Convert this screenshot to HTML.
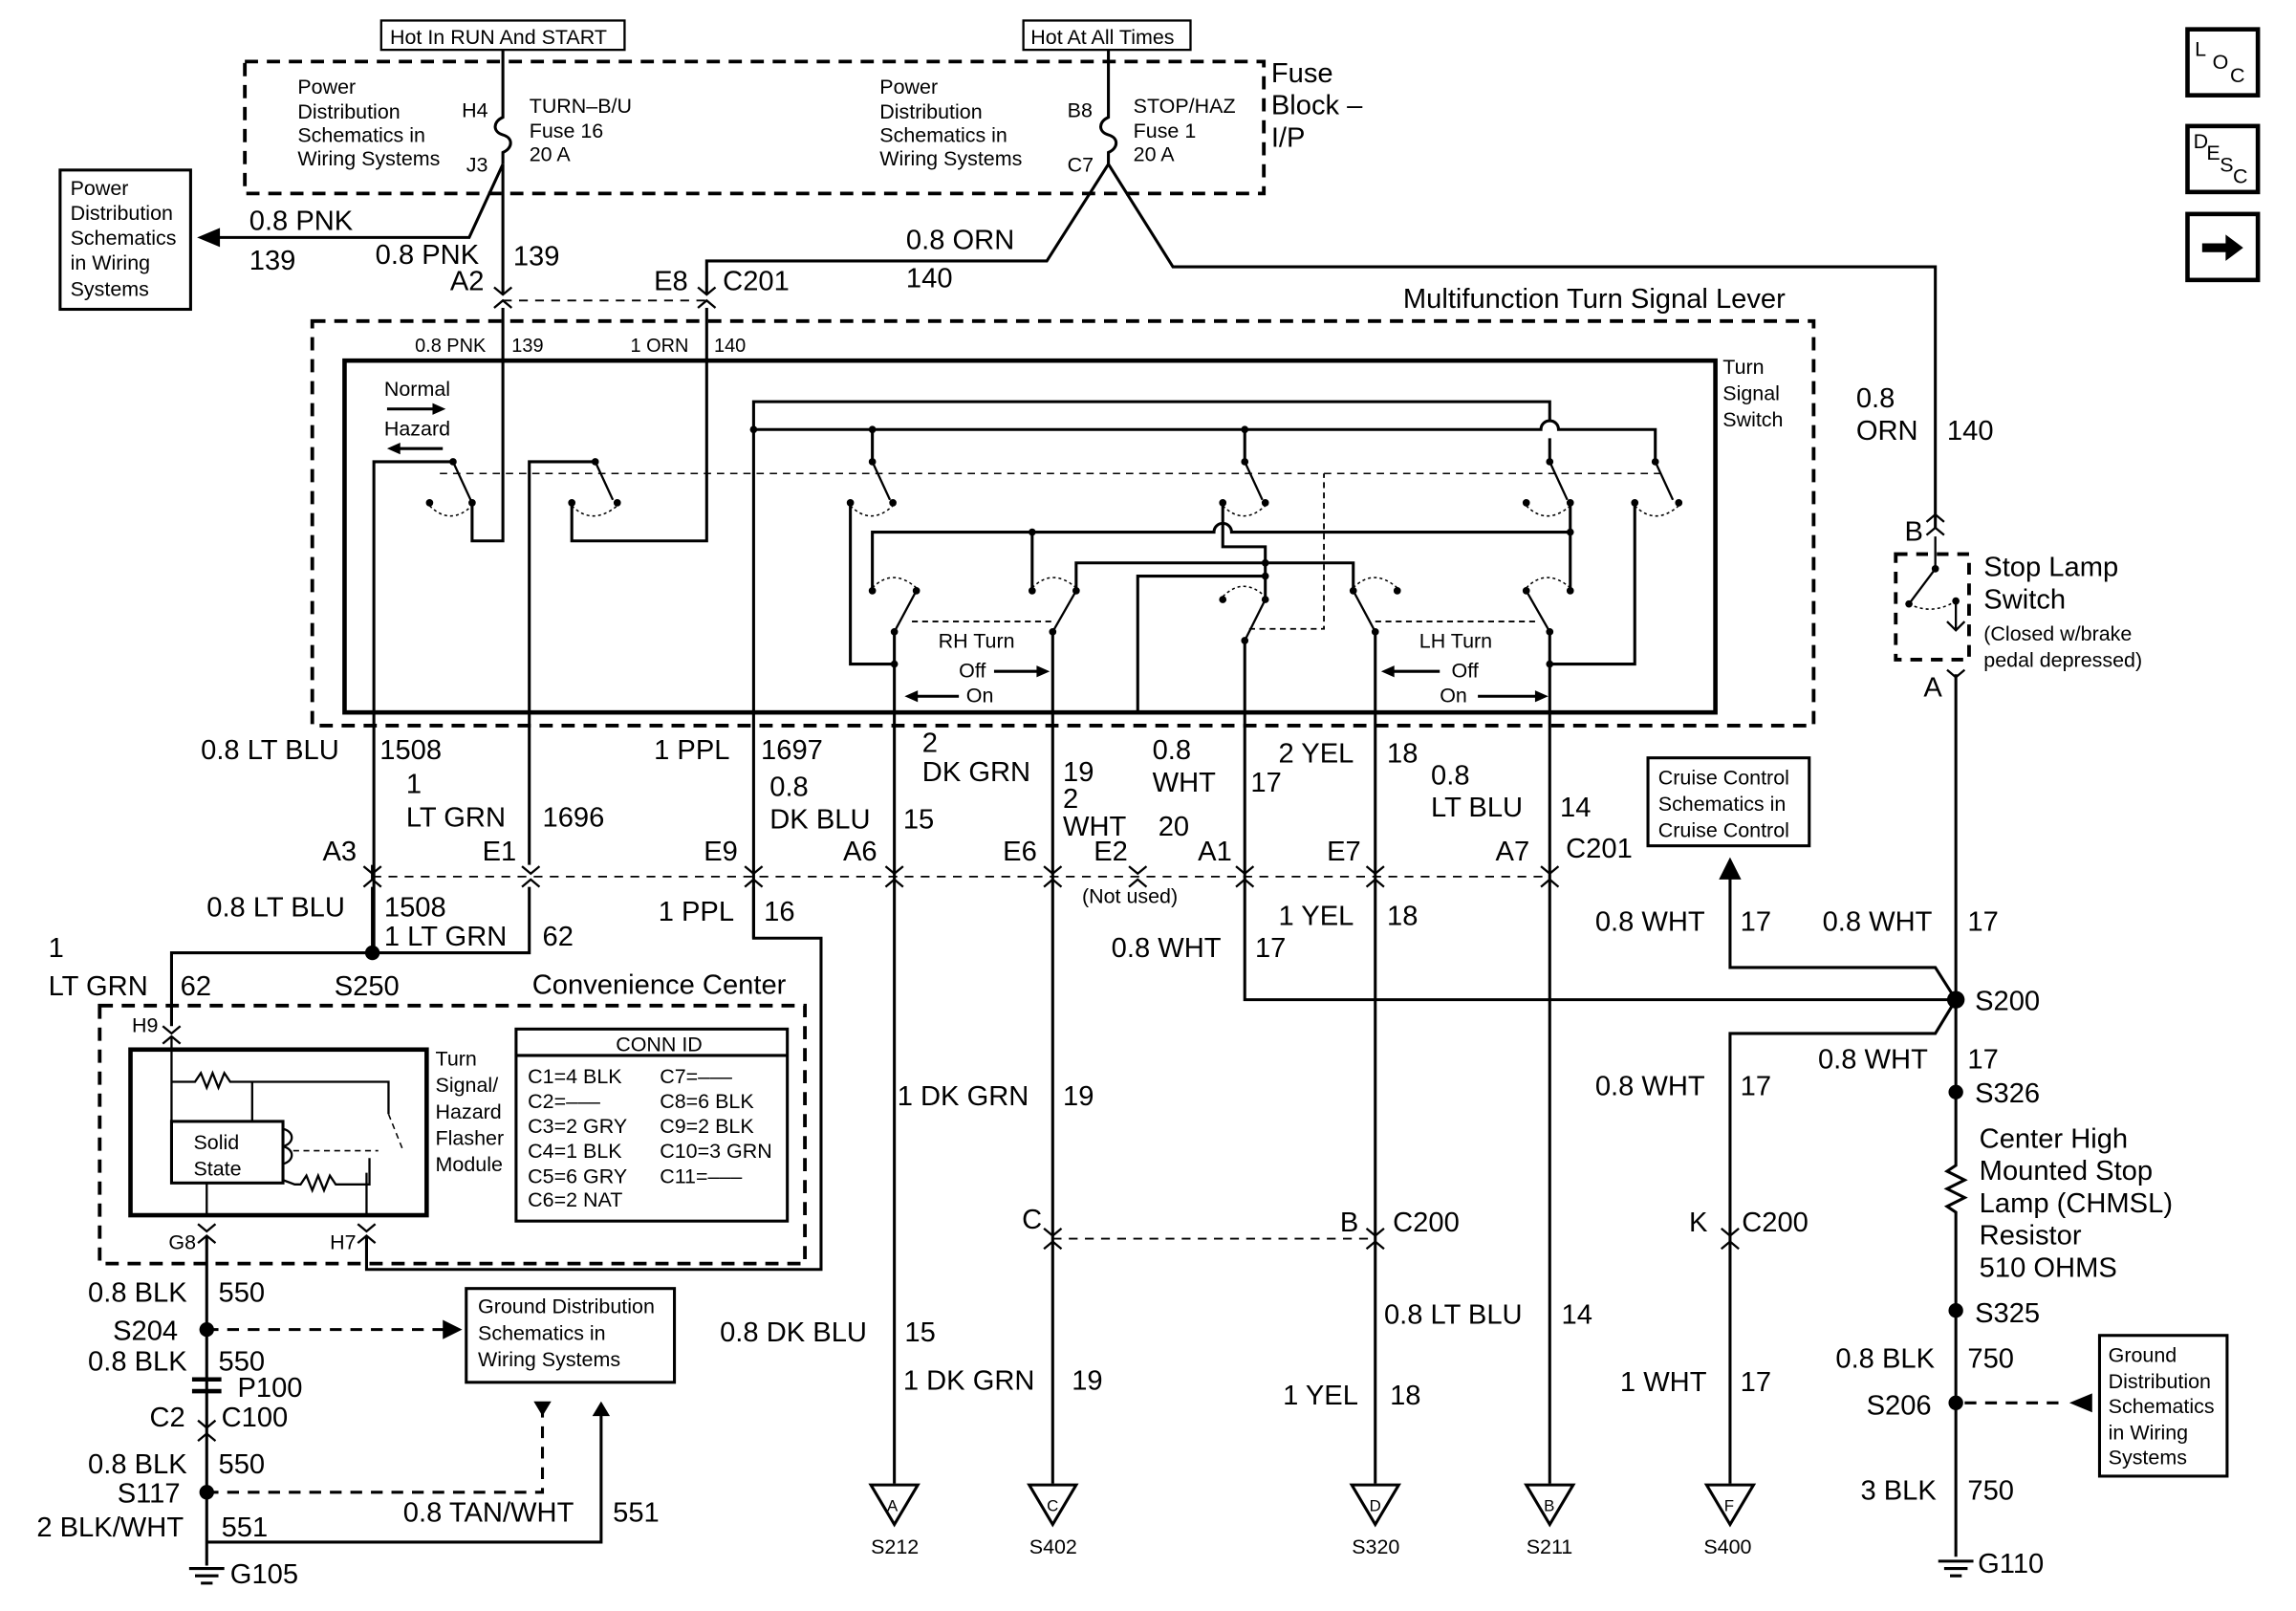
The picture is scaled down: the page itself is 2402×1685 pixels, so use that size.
<!DOCTYPE html>
<html><head><meta charset="utf-8"><style>
html,body{margin:0;padding:0;background:#fff}
svg{display:block}
text{font-family:"Liberation Sans",Arial,sans-serif;fill:#000}
.b{font-size:19px}.s{font-size:14px}.t{font-size:13px}
</style></head><body>
<svg width="2402" height="1685" viewBox="0 0 1566 1099" preserveAspectRatio="none" xmlns="http://www.w3.org/2000/svg">
<g fill="none" stroke="#000" stroke-width="2">
<rect x="260" y="14" width="166" height="20" stroke-width="1.5"/>
<rect x="698" y="14" width="114" height="20" stroke-width="1.5"/>
<path d="M343 34V60M756 34V60"/>
<rect x="167" y="42" width="695" height="90" stroke-dasharray="9,6" stroke-width="2.5"/>
<path d="M343 60V80 C336 83 336 90 343 92 C350 94 350 101 343 104V112"/>
<path d="M756 60V80 C749 83 749 90 756 92 C763 94 763 101 756 104V112"/>
<rect x="41" y="116" width="89" height="95"/>
<path d="M343 112L320 162H140M343 112V200"/>
<path d="M137 162l12-5v10z" fill="#000"/>
<path d="M756 112L714 178H482V200M756 112L800 182H1320V360"/>
<path d="M343 205H482" stroke-dasharray="6,5" stroke-width="1.2"/>
<path d="M337 196l6 5 6-5M337 210l6-5 6 5M476 196l6 5 6-5M476 210l6-5 6 5" stroke-width="1.5"/>
<path d="M343 210V369H322V343M482 210V369H390V343"/>
<rect x="213" y="219" width="1024" height="276" stroke-dasharray="9,6" stroke-width="2.5"/>
<rect x="235" y="246" width="935" height="240" stroke-width="3"/>
<path d="M255 650V315H309M361 590V315H406"/>
<path d="M309 315L321 341M406 315L418 341" stroke-width="1.5"/>
<path d="M300 323H1134" stroke-dasharray="5,4" stroke-width="1"/>
<path d="M514 640V274H1057V287M1057 299V315"/>
<path d="M514 293H1051A6 6 0 0 1 1063 293H1129V315"/>
<path d="M595 293V315M849 293V315"/>
<path d="M595 315L607 341M849 315L861 341M1057 315L1069 341M1129 315L1141 341" stroke-width="1.5"/>
<path d="M580 343V453H610M1115 343V453H1057"/>
<path d="M1071 343V403"/>
<path d="M595 403V363H828A6 6 0 0 1 840 363H1071"/>
<path d="M834 343V373H863V409M704 363V403"/>
<path d="M734 403V384H923V403M776 486V393H863"/>
<path d="M610 431L625 403M718 431L734 403M849 437L863 409M938 431L923 403M1057 431L1041 403" stroke-width="1.5"/>
<path d="M622 424H718M938 424H1050M852 429H903V323" stroke-dasharray="4,3" stroke-width="1.2"/>
<g stroke-width="1" stroke-dasharray="2,2">
<path d="M293 345q14 14 29 0M390 345q14 14 31 0M580 345q14 14 29 0M834 345q14 14 29 0M1041 345q14 14 30 0M1115 345q14 14 30 0"/>
<path d="M595 401q14 -14 30 0M704 401q14 -14 30 0M834 407q14 -14 29 0M923 401q14 -14 30 0M1041 401q14 -14 30 0"/>
</g>
<path d="M678 458H708M625 475H654M950 458H982M1008 475H1048" stroke-width="2"/>
<path d="M264 279H296M272 306H302" stroke-width="2"/>
<path d="M610 431V1012M718 431V1012M849 437V682H1334M938 431V1012M1057 431V1012"/>
<path d="M254 598H1057" stroke-dasharray="6,5" stroke-width="1.2"/>
<path d="M248 591l6 5 6-5M248 605l6-5 6 5M356 591l6 5 6-5M356 605l6-5 6 5M508 591l6 5 6-5M508 605l6-5 6 5M604 591l6 5 6-5M604 605l6-5 6 5M712 591l6 5 6-5M712 605l6-5 6 5M770 591l6 5 6-5M770 605l6-5 6 5M843 591l6 5 6-5M843 605l6-5 6 5M932 591l6 5 6-5M932 605l6-5 6 5M1051 591l6 5 6-5M1051 605l6-5 6 5" stroke-width="1.5"/>
<path d="M361 605V650H254M254 650H117V700M514 605V640H560V866H250V844"/>
<path d="M254 605V650M254 590V600"/>
<rect x="68" y="686" width="481" height="176" stroke-dasharray="9,6" stroke-width="2.5"/>
<path d="M111 700l6 5 6-5M111 712l6-5 6 5" stroke-width="1.5"/>
<rect x="89" y="716" width="202" height="113" stroke-width="3"/>
<rect x="117" y="765" width="76" height="42"/>
<path d="M117 707V765M117 738H133l4-6 4 10 4-10 4 10 4-10 4 6H265V760M172 738V765M193 770c8 2 8 10 0 12c8 2 8 10 0 12M193 805l8 3H205l4-6 4 10 4-10 4 10 4-10 4 6H252V790M141 807V828M250 800V828" stroke-width="1.5"/>
<path d="M265 760L275 785M200 785H258" stroke-width="1" stroke-dasharray="4,3"/>
<rect x="352" y="702" width="185" height="131"/>
<path d="M352 720H537"/>
<path d="M135 835l6 5 6-5M135 848l6-5 6 5M244 835l6 5 6-5M244 848l6-5 6 5" stroke-width="1.5"/>
<path d="M141 843V1068"/>
<path d="M141 907H305" stroke-dasharray="8,6"/>
<path d="M313 907l-10-5v10z" fill="#000"/>
<rect x="318" y="879" width="142" height="64"/>
<path d="M131 941H151M131 949H151" stroke-width="3"/>
<path d="M141 1018H370V960" stroke-dasharray="8,6"/>
<path d="M364 956h12l-6 10z" fill="#000" stroke="none"/>
<path d="M141 1052H410V960"/>
<path d="M404 966h12l-6 -10z" fill="#000" stroke="none"/>
<path d="M129 1070H153M133 1075H149M137 1080H145"/>
<path d="M135 969l6 5 6-5M135 983l6-5 6 5" stroke-width="1.5"/>
<path d="M1314 356l6-5 6 5M1314 365l6-5 6 5" stroke-width="1.5"/>
<rect x="1293" y="378" width="50" height="72" stroke-dasharray="8,6" stroke-width="2.5"/>
<path d="M1320 366V388M1320 388L1302 412M1334 410V430M1328 424l6 6 6-6" stroke-width="1.5"/>
<path d="M1302 412Q1318 420 1334 410" stroke-dasharray="2,2" stroke-width="1"/>
<path d="M1328 457l6 5 6-5" stroke-width="1.5"/>
<path d="M1334 460V795l-6 4 12 6-12 6 12 6-12 6 6 4V1062"/>
<path d="M1334 682L1320 660H1180V596M1334 682L1320 705H1180V1012"/>
<path d="M1180 587l-6 12h12z" fill="#000"/>
<rect x="1124" y="517" width="110" height="60"/>
<path d="M718 845H938" stroke-dasharray="6,5" stroke-width="1.2"/>
<path d="M712 838l6 5 6-5M712 852l6-5 6 5M932 838l6 5 6-5M932 852l6-5 6 5M1174 838l6 5 6-5M1174 852l6-5 6 5" stroke-width="1.5"/>
<path d="M1340 957H1410" stroke-dasharray="8,6"/>
<path d="M1414 957l12-5v10z" fill="#000"/>
<rect x="1432" y="911" width="87" height="96"/>
<path d="M1322 1065H1346M1326 1070H1342M1330 1075H1338"/>
<path d="M594 1013H626L610 1040ZM702 1013H734L718 1040ZM922 1013H954L938 1040ZM1041 1013H1073L1057 1040ZM1164 1013H1196L1180 1040Z"/>
<rect x="1492" y="20" width="48" height="45" stroke-width="3"/>
<rect x="1492" y="86" width="48" height="45" stroke-width="3"/>
<rect x="1492" y="146" width="48" height="45" stroke-width="3"/>
</g>
<g fill="#000">
<path d="M1502 166H1518V160L1530 169L1518 178V172H1502Z"/>
<path d="M304 279l-9-4v8zM264 306l9-4v8zM716 458l-9-4v8zM617 475l9-4v8zM942 458l9-4v8zM1056 475l-9-4v8z"/>
<circle cx="254" cy="650" r="5"/><circle cx="141" cy="907" r="5"/><circle cx="141" cy="1018" r="5"/>
<circle cx="1334" cy="682" r="6"/><circle cx="1334" cy="745" r="5"/><circle cx="1334" cy="894" r="5"/><circle cx="1334" cy="957" r="5"/>
<circle cx="309" cy="315" r="2.5"/><circle cx="406" cy="315" r="2.5"/><circle cx="293" cy="343" r="2.5"/><circle cx="322" cy="343" r="2.5"/><circle cx="390" cy="343" r="2.5"/><circle cx="421" cy="343" r="2.5"/>
<circle cx="514" cy="293" r="2.5"/><circle cx="595" cy="293" r="2.5"/><circle cx="849" cy="293" r="2.5"/>
<circle cx="595" cy="315" r="2.5"/><circle cx="849" cy="315" r="2.5"/><circle cx="1057" cy="315" r="2.5"/><circle cx="1129" cy="315" r="2.5"/>
<circle cx="580" cy="343" r="2.5"/><circle cx="609" cy="343" r="2.5"/><circle cx="834" cy="343" r="2.5"/><circle cx="863" cy="343" r="2.5"/><circle cx="1041" cy="343" r="2.5"/><circle cx="1071" cy="343" r="2.5"/><circle cx="1115" cy="343" r="2.5"/><circle cx="1145" cy="343" r="2.5"/>
<circle cx="704" cy="363" r="2.5"/><circle cx="1071" cy="363" r="2.5"/><circle cx="863" cy="384" r="2.5"/><circle cx="863" cy="393" r="2.5"/>
<circle cx="595" cy="403" r="2.5"/><circle cx="625" cy="403" r="2.5"/><circle cx="704" cy="403" r="2.5"/><circle cx="734" cy="403" r="2.5"/><circle cx="923" cy="403" r="2.5"/><circle cx="953" cy="403" r="2.5"/><circle cx="1041" cy="403" r="2.5"/><circle cx="1071" cy="403" r="2.5"/><circle cx="834" cy="409" r="2.5"/><circle cx="863" cy="409" r="2.5"/>
<circle cx="610" cy="431" r="2.5"/><circle cx="718" cy="431" r="2.5"/><circle cx="849" cy="437" r="2.5"/><circle cx="938" cy="431" r="2.5"/><circle cx="1057" cy="431" r="2.5"/><circle cx="610" cy="453" r="2.5"/><circle cx="1057" cy="453" r="2.5"/>
<circle cx="1320" cy="388" r="2.5"/><circle cx="1302" cy="412" r="2.5"/><circle cx="1334" cy="410" r="2.5"/>
</g>
<g class="s">
<text x="266" y="30">Hot In RUN And START</text><text x="703" y="30">Hot At All Times</text>
<text x="203" y="64">Power</text><text x="203" y="81">Distribution</text><text x="203" y="97">Schematics in</text><text x="203" y="113">Wiring Systems</text>
<text x="315" y="80">H4</text><text x="318" y="117">J3</text>
<text x="361" y="77">TURN–B/U</text><text x="361" y="94">Fuse 16</text><text x="361" y="110">20 A</text>
<text x="600" y="64">Power</text><text x="600" y="81">Distribution</text><text x="600" y="97">Schematics in</text><text x="600" y="113">Wiring Systems</text>
<text x="728" y="80">B8</text><text x="728" y="117">C7</text>
<text x="773" y="77">STOP/HAZ</text><text x="773" y="94">Fuse 1</text><text x="773" y="110">20 A</text>
<text x="48" y="133">Power</text><text x="48" y="150">Distribution</text><text x="48" y="167">Schematics</text><text x="48" y="184">in Wiring</text><text x="48" y="202">Systems</text>
<text x="1175" y="255">Turn</text><text x="1175" y="273">Signal</text><text x="1175" y="291">Switch</text>
<text x="262" y="270">Normal</text><text x="262" y="297">Hazard</text>
<text x="640" y="442">RH Turn</text><text x="654" y="462">Off</text><text x="659" y="479">On</text>
<text x="968" y="442">LH Turn</text><text x="990" y="462">Off</text><text x="982" y="479">On</text>
<text x="738" y="616">(Not used)</text>
<text x="297" y="727">Turn</text><text x="297" y="745">Signal/</text><text x="297" y="763">Hazard</text><text x="297" y="781">Flasher</text><text x="297" y="799">Module</text>
<text x="132" y="784">Solid</text><text x="132" y="802">State</text>
<text x="90" y="704">H9</text><text x="115" y="852">G8</text><text x="225" y="852">H7</text>
<text x="420" y="717">CONN ID</text>
<text x="360" y="739">C1=4 BLK</text><text x="360" y="756">C2=–––</text><text x="360" y="773">C3=2 GRY</text><text x="360" y="790">C4=1 BLK</text><text x="360" y="807">C5=6 GRY</text><text x="360" y="823">C6=2 NAT</text>
<text x="450" y="739">C7=–––</text><text x="450" y="756">C8=6 BLK</text><text x="450" y="773">C9=2 BLK</text><text x="450" y="790">C10=3 GRN</text><text x="450" y="807">C11=–––</text>
<text x="326" y="896">Ground Distribution</text><text x="326" y="914">Schematics in</text><text x="326" y="932">Wiring Systems</text>
<text x="1131" y="535">Cruise Control</text><text x="1131" y="553">Schematics in</text><text x="1131" y="571">Cruise Control</text>
<text x="1353" y="437">(Closed w/brake</text><text x="1353" y="455">pedal depressed)</text>
<text x="1438" y="929">Ground</text><text x="1438" y="947">Distribution</text><text x="1438" y="964">Schematics</text><text x="1438" y="982">in Wiring</text><text x="1438" y="999">Systems</text>
<text x="594" y="1060">S212</text><text x="702" y="1060">S402</text><text x="922" y="1060">S320</text><text x="1041" y="1060">S211</text><text x="1162" y="1060">S400</text>
<text x="605" y="1031" font-size="11">A</text><text x="714" y="1031" font-size="11">C</text><text x="934" y="1031" font-size="11">D</text><text x="1053" y="1031" font-size="11">B</text><text x="1176" y="1031" font-size="11">F</text>
<text x="1497" y="38">L</text><text x="1509" y="47">O</text><text x="1521" y="56">C</text>
<text x="1496" y="101">D</text><text x="1505" y="109">E</text><text x="1514" y="117">S</text><text x="1523" y="125">C</text>
</g>
<g class="t"><text x="283" y="240">0.8 PNK</text><text x="349" y="240">139</text><text x="430" y="240">1 ORN</text><text x="487" y="240">140</text></g>
<g class="b">
<text x="867" y="56">Fuse</text><text x="867" y="78">Block –</text><text x="867" y="100">I/P</text>
<text x="170" y="157">0.8 PNK</text><text x="170" y="184">139</text><text x="256" y="180">0.8 PNK</text><text x="350" y="181">139</text><text x="307" y="198">A2</text>
<text x="618" y="170">0.8 ORN</text><text x="618" y="196">140</text><text x="446" y="198">E8</text><text x="493" y="198">C201</text>
<text x="957" y="210">Multifunction Turn Signal Lever</text>
<text x="1266" y="278">0.8</text><text x="1266" y="300">ORN</text><text x="1328" y="300">140</text>
<text x="1299" y="369">B</text><text x="1353" y="393">Stop Lamp</text><text x="1353" y="415">Switch</text><text x="1312" y="475">A</text>
<text x="137" y="518">0.8 LT BLU</text><text x="259" y="518">1508</text><text x="277" y="541">1</text><text x="277" y="564">LT GRN</text><text x="370" y="564">1696</text>
<text x="446" y="518">1 PPL</text><text x="519" y="518">1697</text><text x="525" y="543">0.8</text><text x="525" y="565">DK BLU</text><text x="616" y="565">15</text>
<text x="629" y="513">2</text><text x="629" y="533">DK GRN</text><text x="725" y="533">19</text><text x="725" y="551">2</text><text x="725" y="570">WHT</text><text x="790" y="570">20</text>
<text x="786" y="518">0.8</text><text x="786" y="540">WHT</text><text x="853" y="540">17</text><text x="872" y="520">2 YEL</text><text x="946" y="520">18</text>
<text x="976" y="535">0.8</text><text x="976" y="557">LT BLU</text><text x="1064" y="557">14</text>
<text x="220" y="587">A3</text><text x="329" y="587">E1</text><text x="480" y="587">E9</text><text x="575" y="587">A6</text><text x="684" y="587">E6</text><text x="746" y="587">E2</text><text x="817" y="587">A1</text><text x="905" y="587">E7</text><text x="1020" y="587">A7</text><text x="1068" y="585">C201</text>
<text x="141" y="625">0.8 LT BLU</text><text x="262" y="625">1508</text><text x="262" y="645">1 LT GRN</text><text x="370" y="645">62</text>
<text x="449" y="628">1 PPL</text><text x="521" y="628">16</text><text x="872" y="631">1 YEL</text><text x="946" y="631">18</text><text x="758" y="653">0.8 WHT</text><text x="856" y="653">17</text>
<text x="33" y="653">1</text><text x="33" y="679">LT GRN</text><text x="123" y="679">62</text><text x="228" y="679">S250</text><text x="363" y="678">Convenience Center</text>
<text x="1088" y="635">0.8 WHT</text><text x="1187" y="635">17</text><text x="1243" y="635">0.8 WHT</text><text x="1342" y="635">17</text><text x="1347" y="689">S200</text>
<text x="1240" y="729">0.8 WHT</text><text x="1342" y="729">17</text><text x="1088" y="747">0.8 WHT</text><text x="1187" y="747">17</text><text x="1347" y="752">S326</text>
<text x="1350" y="783">Center High</text><text x="1350" y="805">Mounted Stop</text><text x="1350" y="827">Lamp (CHMSL)</text><text x="1350" y="849">Resistor</text><text x="1350" y="871">510 OHMS</text>
<text x="1347" y="902">S325</text><text x="1252" y="933">0.8 BLK</text><text x="1342" y="933">750</text><text x="1273" y="965">S206</text><text x="1269" y="1023">3 BLK</text><text x="1342" y="1023">750</text><text x="1349" y="1073">G110</text>
<text x="612" y="754">1 DK GRN</text><text x="725" y="754">19</text>
<text x="697" y="838">C</text><text x="914" y="840">B</text><text x="950" y="840">C200</text><text x="1152" y="840">K</text><text x="1188" y="840">C200</text>
<text x="491" y="915">0.8 DK BLU</text><text x="617" y="915">15</text><text x="616" y="948">1 DK GRN</text><text x="731" y="948">19</text>
<text x="944" y="903">0.8 LT BLU</text><text x="1065" y="903">14</text><text x="875" y="958">1 YEL</text><text x="948" y="958">18</text><text x="1105" y="949">1 WHT</text><text x="1187" y="949">17</text>
<text x="60" y="888">0.8 BLK</text><text x="149" y="888">550</text><text x="77" y="914">S204</text><text x="60" y="935">0.8 BLK</text><text x="149" y="935">550</text>
<text x="162" y="953">P100</text><text x="102" y="973">C2</text><text x="151" y="973">C100</text>
<text x="60" y="1005">0.8 BLK</text><text x="149" y="1005">550</text><text x="80" y="1025">S117</text>
<text x="25" y="1048">2 BLK/WHT</text><text x="151" y="1048">551</text><text x="275" y="1038">0.8 TAN/WHT</text><text x="418" y="1038">551</text><text x="157" y="1080">G105</text>
</g>
</svg>
</body></html>
